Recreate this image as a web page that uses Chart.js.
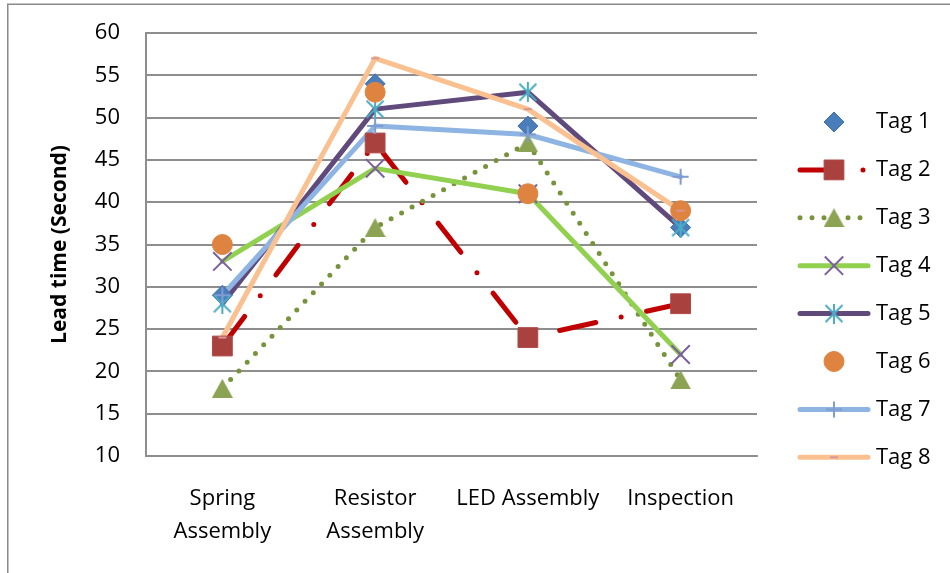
<!DOCTYPE html>
<html>
<head>
<meta charset="utf-8">
<title>Lead time by station</title>
<script src="https://cdn.jsdelivr.net/npm/chart.js@4/dist/chart.umd.min.js"></script>
<style>
  html, body { margin: 0; padding: 0; background: #ffffff; }
  #wrap { width: 950px; height: 573px; }
</style>
</head>
<body>
<div id="wrap"><canvas id="chart" width="950" height="573"></canvas></div>
<script>
// Stations along the line (x categories)
const categories = [['Spring', 'Assembly'], ['Resistor', 'Assembly'], 'LED Assembly', 'Inspection'];

// Series names
const seriesNames = ['Tag 1', 'Tag 2', 'Tag 3', 'Tag 4', 'Tag 5', 'Tag 6', 'Tag 7', 'Tag 8'];

// Lead time in seconds per tag, one value per station
const tag1 = [29, 54, 49, 37];
const tag2 = [23, 47, 24, 28];
const tag3 = [18, 37, 47, 19];
const tag4 = [33, 44, 41, 22];
const tag5 = [28, 51, 53, 37];
const tag6 = [35, 53, 41, 39];
const tag7 = [29, 49, 48, 43];
const tag8 = [24, 57, 51, 39];

// Value axis
const yMin = 10;
const yMax = 60;
const yStep = 5;

const seriesValues = [tag1, tag2, tag3, tag4, tag5, tag6, tag7, tag8];

const FONT = '"Open Sans", "Noto Sans", sans-serif';
const GRID = '#8e8e8e';

// Asterisk marker: an X with a vertical stroke
function makeAsterisk(color, size, lw) {
  const c = document.createElement('canvas');
  c.width = size; c.height = size;
  const g = c.getContext('2d');
  g.strokeStyle = color;
  g.lineWidth = lw;
  const m = lw / 2 + 0.5;
  g.beginPath();
  g.moveTo(m, m); g.lineTo(size - m, size - m);
  g.moveTo(size - m, m); g.lineTo(m, size - m);
  g.moveTo(size / 2, 0); g.lineTo(size / 2, size);
  g.stroke();
  return c;
}

// Triangle marker centred on its bounding box
function makeTriangle(color, w, h) {
  const c = document.createElement('canvas');
  c.width = w; c.height = h;
  const g = c.getContext('2d');
  g.fillStyle = color;
  g.beginPath();
  g.moveTo(w / 2, 0);
  g.lineTo(w, h);
  g.lineTo(0, h);
  g.closePath();
  g.fill();
  return c;
}

// Per-series look: connecting line (or none) and marker
const styles = [
  { line: null,
    marker: { style: 'rectRot', radius: 10, fill: '#4A7EBB', stroke: '#3F6FA8', width: 1 } },
  { line: { color: '#C00000', width: 5, dash: [37, 26, 0, 26] },
    marker: { style: 'rect', radius: 14, fill: '#A9413F', stroke: '#B04A47', width: 1 } },
  { line: { color: '#77933C', width: 5, dash: [0, 12] },
    marker: { style: makeTriangle('#8BA352', 21, 19), radius: 10, fill: '#8BA352', stroke: '#8BA352', width: 0 } },
  { line: { color: '#92D050', width: 5, dash: [] },
    marker: { style: 'crossRot', radius: 13, fill: 'rgba(0,0,0,0)', stroke: '#7D5FA0', width: 2 } },
  { line: { color: '#604A7B', width: 5, dash: [] },
    marker: { style: makeAsterisk('#4BACC6', 20, 2), radius: 10, fill: 'rgba(0,0,0,0)', stroke: '#4BACC6', width: 2 } },
  { line: null,
    marker: { style: 'circle', radius: 10, fill: '#DE8340', stroke: '#DE8340', width: 1 } },
  { line: { color: '#8DB4E2', width: 5, dash: [] },
    marker: { style: 'cross', radius: 8, fill: 'rgba(0,0,0,0)', stroke: '#7F9CD0', width: 2 } },
  { line: { color: '#FAC090', width: 5, dash: [] },
    marker: { style: 'line', radius: 4, fill: 'rgba(0,0,0,0)', stroke: '#D99694', width: 2 } }
];

// Lines go underneath, markers on top of every line (later tags over earlier ones)
const datasets = [];
seriesValues.forEach((vals, i) => {
  const st = styles[i];
  if (st.line) {
    datasets.push({
      label: seriesNames[i] + ' line',
      data: vals,
      order: 100 - i,
      borderColor: st.line.color,
      borderWidth: st.line.width,
      borderDash: st.line.dash,
      borderCapStyle: 'round',
      borderJoinStyle: 'round',
      pointRadius: 0,
      pointHoverRadius: 0,
      fill: false,
      tension: 0
    });
  }
});
seriesValues.forEach((vals, i) => {
  const m = styles[i].marker;
  datasets.push({
    label: seriesNames[i],
    data: vals,
    order: 20 - i,
    showLine: false,
    pointStyle: m.style,
    pointRadius: m.radius,
    pointHoverRadius: m.radius,
    pointBackgroundColor: m.fill,
    pointBorderColor: m.stroke,
    pointBorderWidth: m.width
  });
});

// Thin frame along the left and top edge
const framePlugin = {
  id: 'frame',
  beforeDraw(chart) {
    const ctx = chart.ctx;
    ctx.save();
    ctx.strokeStyle = '#8a8a8a';
    ctx.lineWidth = 1.5;
    ctx.beginPath();
    ctx.moveTo(7.75, chart.height);
    ctx.lineTo(7.75, 4.25);
    ctx.lineTo(chart.width, 4.25);
    ctx.stroke();
    ctx.restore();
  }
};

// Legend on the right: line sample with marker, then the name
const legendPlugin = {
  id: 'sideLegend',
  afterDraw(chart) {
    const ctx = chart.ctx;
    const x0 = 800, x1 = 868, xm = 834, tx = 876;
    ctx.save();
    seriesNames.forEach((name, i) => {
      const y = 122 + i * 47.9;
      const st = styles[i];
      if (st.line) {
        ctx.save();
        ctx.strokeStyle = st.line.color;
        ctx.lineWidth = st.line.width;
        ctx.lineCap = 'round';
        ctx.setLineDash(st.line.dash);
        ctx.beginPath();
        ctx.moveTo(x0, y);
        ctx.lineTo(x1, y);
        ctx.stroke();
        ctx.restore();
      }
      const m = st.marker;
      ctx.save();
      ctx.fillStyle = m.fill;
      ctx.strokeStyle = m.stroke;
      ctx.lineWidth = m.width;
      Chart.helpers.drawPoint(ctx, { pointStyle: m.style, radius: m.radius, rotation: 0, borderWidth: m.width }, xm, y);
      ctx.restore();
      ctx.fillStyle = '#000000';
      ctx.font = '22px ' + FONT;
      ctx.textAlign = 'left';
      ctx.textBaseline = 'middle';
      ctx.fillText(name, tx, y);
    });
    ctx.restore();
  }
};

new Chart(document.getElementById('chart'), {
  type: 'line',
  data: { labels: categories, datasets: datasets },
  plugins: [framePlugin, legendPlugin],
  options: {
    responsive: false,
    animation: false,
    events: [],
    layout: { padding: { top: 33, right: 193, left: 0, bottom: 0 } },
    plugins: {
      legend: { display: false },
      tooltip: { enabled: false }
    },
    scales: {
      x: {
        type: 'category',
        offset: true,
        grid: { display: false, drawTicks: false },
        border: { display: true, color: GRID, width: 2 },
        ticks: {
          color: '#000000',
          font: { family: FONT, size: 22, lineHeight: 1.5 },
          padding: 26,
          maxRotation: 0,
          autoSkip: false
        },
        afterFit(scale) { scale.height = 117; }
      },
      y: {
        min: yMin,
        max: yMax,
        grid: { color: GRID, lineWidth: 2, drawTicks: false },
        border: { display: true, color: GRID, width: 2 },
        ticks: {
          stepSize: yStep,
          color: '#000000',
          padding: 26,
          font: { family: FONT, size: 22 }
        },
        title: {
          display: true,
          text: 'Lead time (Second)',
          color: '#000000',
          font: { family: FONT, size: 21, weight: 'bold' },
          padding: { top: 47, bottom: 0 }
        },
        afterFit(scale) {
          scale.width = 146;
          scale.paddingTop = 0;
          scale.paddingBottom = 0;
        }
      }
    }
  }
});
</script>
</body>
</html>
